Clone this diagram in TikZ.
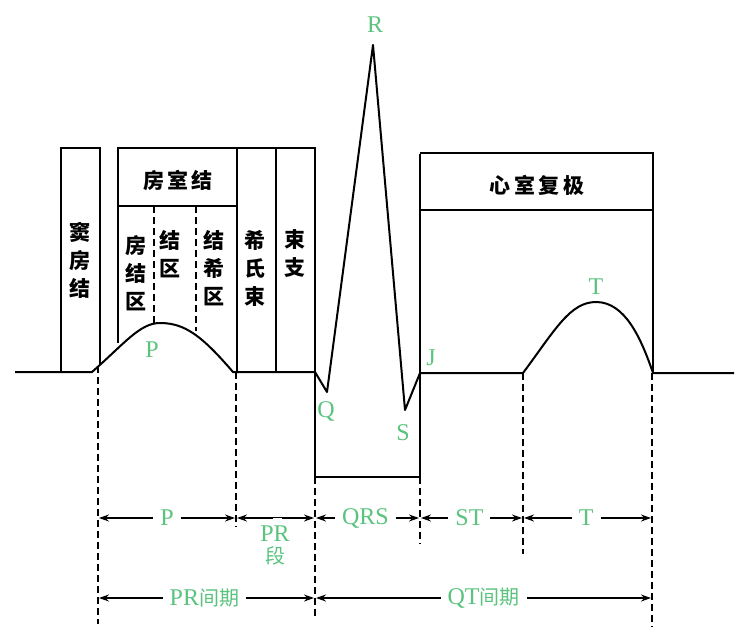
\documentclass[tikz,border=0pt]{standalone}
\usepackage{fontspec}
\setmainfont{Liberation Serif}
\newfontfamily\cjk{Noto Sans CJK SC}
\usetikzlibrary{arrows,arrows.meta,positioning}
\definecolor{wavegreen}{RGB}{90,195,125}
\tikzset{>=stealth',shorten >=1pt,node distance=2cm}
\tikzset{wave/.style={line width=2pt,line join=round}}
\tikzset{boxline/.style={line width=1.8pt}}
\tikzset{guide/.style={line width=1.4pt,dash pattern=on 7pt off 4pt}}
\tikzset{dimarrow/.style={{Stealth[length=10pt,width=7pt]}-{Stealth[length=10pt,width=7pt]},line width=1.5pt,shorten <=1pt}}
\tikzset{greenlabel/.style={text=wavegreen,font=\fontsize{24}{26}\selectfont,inner sep=1pt}}
\tikzset{gaplabel/.style={greenlabel,fill=white,inner xsep=7pt}}
\tikzset{boxtext/.style={font=\cjk\bfseries\fontsize{21}{28}\selectfont,align=center,inner sep=0pt}}

\begin{document}
\begin{tikzpicture}[x=1pt,y=-1pt]
                \useasboundingbox (0,0) rectangle (743,642);
                % waveform points
                \coordinate (w0) at (15,372);
                \coordinate (pstart) at (92,372);
                \coordinate (ppeak) at (160,323);
                \coordinate (pend) at (233,372);
                \coordinate (qrsin) at (315,372);
                \coordinate (q) at (327,392);
                \coordinate (r) at (373,45);
                \coordinate (s) at (405,410);
                \coordinate (j) at (420,373);
                \coordinate (tstart) at (523,373);
                \coordinate (tpeak) at (596,302);
                \coordinate (tend) at (653,373);
                \coordinate (w1) at (735,373);
                \draw[wave] (w0) -- (pstart)
                    .. controls (125,343) and (140,323) .. (ppeak)
                    .. controls (185,323) and (202,336) .. (pend)
                    -- (qrsin) -- (q) -- (r) -- (s) -- (j) -- (tstart)
                    .. controls (555,330) and (570,302) .. (tpeak)
                    .. controls (625,302) and (641,338) .. (tend)
                    -- (w1);

                % conduction boxes
                \draw[boxline] (61,372) -- (61,148) -- (100,148) -- (100,365);
                \draw[boxline] (118,343) -- (118,148) -- (237,148) -- (237,372);
                \draw[boxline] (118,206) -- (237,206);
                \draw[guide] (154,206) -- (154,324);
                \draw[guide] (196,206) -- (196,332);
                \draw[boxline] (237,148) -- (276,148) -- (276,372);
                \draw[boxline] (276,148) -- (315,148) -- (315,477) -- (420,477) -- (420,153);
                \draw[boxline] (420,153) -- (653,153) -- (653,373);
                \draw[boxline] (420,210) -- (653,210);

                \node[boxtext] (sa) at (80,260) {\fontsize{21}{30}\selectfont 窦\\房\\结};
                \node[boxtext] (avn) at (178,180) {房\,室\,结};
                \node[boxtext] (an) at (136,273) {房\\结\\区};
                \node[boxtext] (nn) at (170,254) {结\\区};
                \node[boxtext] (nh) at (214,268) {结\\希\\区};
                \node[boxtext] (his) at (255,268) {希\\氏\\束};
                \node[boxtext] (bb) at (295,254) {束\\支};
                \node[boxtext] (rep) at (537,185) {心\,室\,复\,极};

                % wave labels
                \node[greenlabel] (lr) at (375,25) {R};
                \node[greenlabel] (lq) at (326,411) {Q};
                \node[greenlabel] (ls) at (403,433) {S};
                \node[greenlabel] (lj) at (431,358) {J};
                \node[greenlabel] (lt) at (596,287) {T};
                \node[greenlabel] (lp) at (152,350) {P};

                % guide lines
                \coordinate (g1) at (98,366);
                \coordinate (g1b) at (98,625);
                \coordinate (g2) at (236,372);
                \coordinate (g2b) at (236,528);
                \coordinate (g3) at (315,477);
                \coordinate (g3b) at (315,620);
                \coordinate (g4) at (420,477);
                \coordinate (g4b) at (420,545);
                \coordinate (g5) at (523,373);
                \coordinate (g5b) at (523,555);
                \coordinate (g6) at (652,373);
                \coordinate (g6b) at (652,628);
                \foreach \g in {1,...,6}
                    \draw[guide] (g\g) -- (g\g b);

                % intervals
                \coordinate (a1) at (98,518);
                \coordinate (a2) at (236,518);
                \coordinate (a3) at (315,518);
                \coordinate (a4) at (420,518);
                \coordinate (a5) at (523,518);
                \coordinate (a6) at (652,518);
                \coordinate (b1) at (98,598);
                \coordinate (b3) at (315,598);
                \coordinate (b6) at (652,598);
                \draw[dimarrow] (a1) -- node[gaplabel,pos=0.5] (ip) {P} (a2);
                \draw[dimarrow] (a2) -- node[fill=white,minimum width=9pt,inner sep=0pt,pos=0.52] (gap) {} (a3);
                \node[greenlabel] (ipr) at (275,534) {PR};
                \node[greenlabel,font=\cjk\fontsize{20}{22}\selectfont,below=2pt of ipr] (iseg) {段};
                \draw[dimarrow] (a3) -- node[gaplabel,pos=0.48] (iqrs) {QRS} (a4);
                \draw[dimarrow] (a4) -- node[gaplabel,pos=0.48] (ist) {ST} (a5);
                \draw[dimarrow] (a5) -- node[gaplabel,pos=0.49] (itw) {T} (a6);
                \draw[dimarrow] (b1) -- node[gaplabel,pos=0.49] (ipri) {PR{\cjk\fontsize{20}{22}\selectfont 间期}} (b3);
                \draw[dimarrow] (b3) -- node[gaplabel,pos=0.50] (iqt) {QT{\cjk\fontsize{20}{22}\selectfont 间期}} (b6);
            \end{tikzpicture}
\end{document}
